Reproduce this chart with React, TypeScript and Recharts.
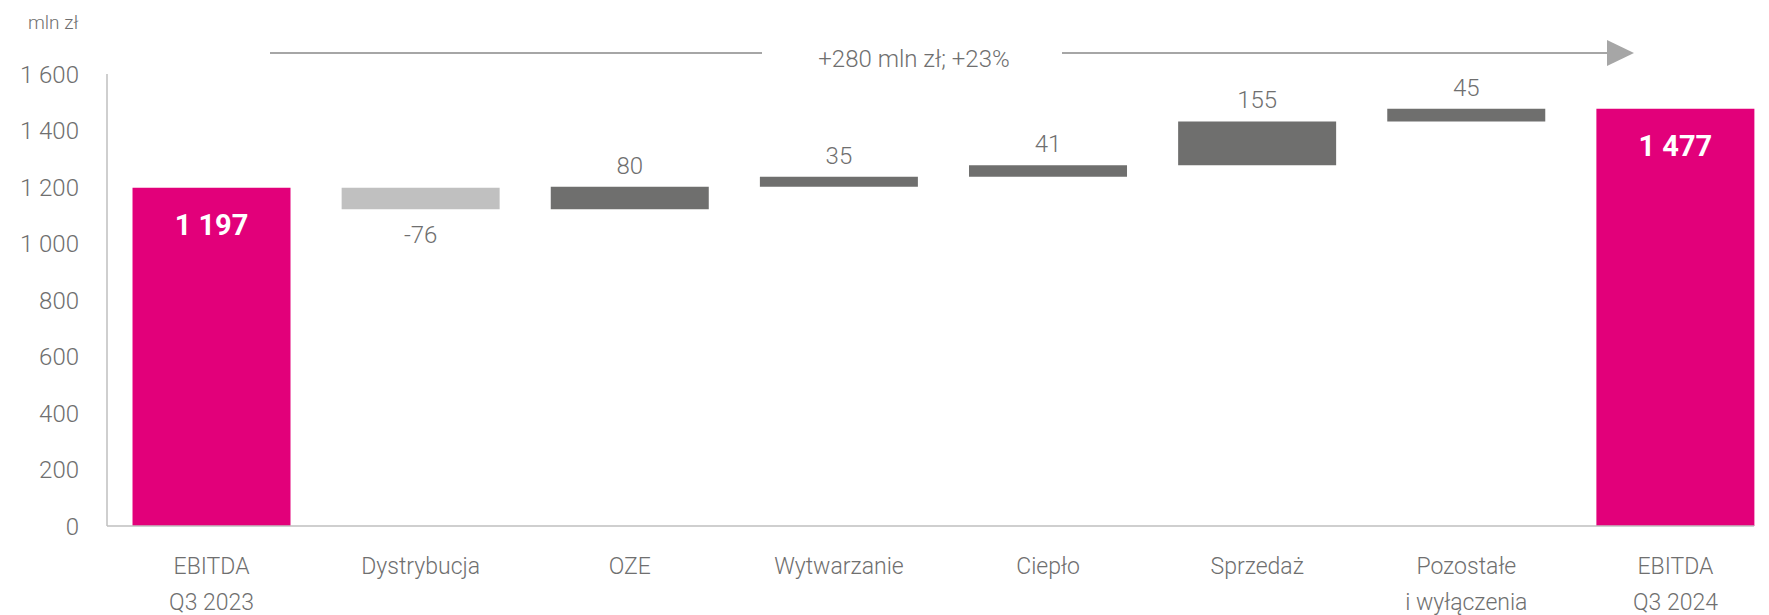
import React from "react";
import { BarChart, Bar, XAxis, YAxis, Cell, LabelList } from "recharts";

const categories = [
  "EBITDA\nQ3 2023",
  "Dystrybucja",
  "OZE",
  "Wytwarzanie",
  "Ciepło",
  "Sprzedaż",
  "Pozostałe\ni wyłączenia",
  "EBITDA\nQ3 2024",
];
const changes = [1197, -76, 80, 35, 41, 155, 45, 1477];
const isTotal = [true, false, false, false, false, false, false, true];
const yTicks = [0, 200, 400, 600, 800, 1000, 1200, 1400, 1600];

const PINK = "#E2007A";
const DARK = "#6F6F6E";
const LIGHT = "#C0C0C0";
const TEXT = "#6F6F6F";
const FONT = "Roboto, 'Open Sans', sans-serif";

const fmt = (v: number) => {
  const s = String(Math.abs(v)).replace(/\B(?=(\d{3})+(?!\d))/g, " ");
  return v < 0 ? "-" + s : s;
};

// build waterfall rows: invisible base + visible step
let running = 0;
const data = categories.map((name, i) => {
  if (isTotal[i]) {
    running = changes[i];
    return { name, base: 0, value: changes[i] };
  }
  const start = running;
  const end = running + changes[i];
  running = end;
  return { name, base: Math.min(start, end), value: Math.abs(changes[i]) };
});

const colorFor = (i: number) =>
  isTotal[i] ? PINK : changes[i] < 0 ? LIGHT : DARK;

const XTick = ({ x, y, payload }: any) => {
  const lines = String(payload.value).split("\n");
  return (
    <text x={x} y={y} textAnchor="middle" fill={TEXT} fontSize={23} fontFamily={FONT} fontWeight={300}>
      {lines.map((l, i) => (
        <tspan key={i} x={x} dy={i === 0 ? 46 : 36}>
          {l}
        </tspan>
      ))}
    </text>
  );
};

const BarLabel = (props: any) => {
  const { x, y, width, height, index } = props;
  const cx = x + width / 2;
  const v = changes[index];
  if (isTotal[index]) {
    return (
      <text x={cx} y={y + 37} textAnchor="middle" dominantBaseline="central" fill="#fff" fontSize={29} fontWeight={700} fontFamily={FONT}>
        {fmt(v)}
      </text>
    );
  }
  const ly = v < 0 ? y + height + 26 : y - 21;
  return (
    <text x={cx} y={ly} textAnchor="middle" dominantBaseline="central" fill={TEXT} fontSize={24} fontWeight={300} fontFamily={FONT}>
      {fmt(v)}
    </text>
  );
};

export default function App() {
  return (
    <div style={{ position: "absolute", left: 0, top: 0, width: 1769, height: 615, background: "#fff" }}>
      <BarChart
        width={1769}
        height={615}
        data={data}
        margin={{ top: 74, right: 15, left: 0, bottom: 0 }}
        barCategoryGap="12.2%"
      >
        <XAxis
          dataKey="name"
          interval={0}
          height={89}
          padding={{ left: 0, right: -26 }}
          tickLine={false}
          tickSize={0}
          axisLine={{ stroke: "#BFBFBF", strokeWidth: 1.5 }}
          tick={<XTick />}
        />
        <YAxis
          width={107}
          domain={[0, 1600]}
          ticks={yTicks}
          tickFormatter={fmt}
          tickLine={false}
          tickSize={0}
          tickMargin={28}
          axisLine={{ stroke: "#BFBFBF", strokeWidth: 1.5 }}
          tick={{ fill: TEXT, fontSize: 24, fontFamily: FONT, fontWeight: 300 }}
        />
        <Bar dataKey="base" stackId="w" fill="transparent" isAnimationActive={false} />
        <Bar dataKey="value" stackId="w" isAnimationActive={false}>
          {data.map((_, i) => (
            <Cell key={i} fill={colorFor(i)} />
          ))}
          <LabelList dataKey="value" content={<BarLabel />} />
        </Bar>
      </BarChart>
      <svg
        width={1769}
        height={615}
        style={{ position: "absolute", left: 0, top: 0, pointerEvents: "none" }}
      >
        <text x={28} y={22} dominantBaseline="central" fill={TEXT} fontSize={19} fontWeight={300} fontFamily={FONT}>
          mln zł
        </text>
        <line x1={270} x2={762} y1={53} y2={53} stroke="#A6A6A6" strokeWidth={2} />
        <line x1={1062} x2={1610} y1={53} y2={53} stroke="#A6A6A6" strokeWidth={2} />
        <polygon points="1607,40 1634,53 1607,66" fill="#A6A6A6" />
        <text x={914} y={59} textAnchor="middle" dominantBaseline="central" fill={TEXT} fontSize={24} fontWeight={300} fontFamily={FONT}>
          +280 mln zł; +23%
        </text>
      </svg>
    </div>
  );
}
